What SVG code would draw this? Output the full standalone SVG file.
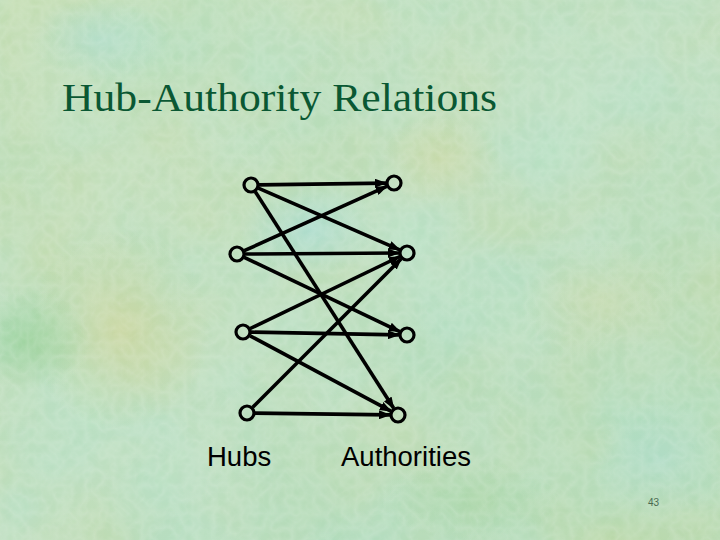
<svg xmlns="http://www.w3.org/2000/svg" width="720" height="540" viewBox="0 0 720 540">
<defs>
<style>
.title{font-family:"Liberation Serif","Times New Roman",serif;font-size:40px;fill:#0A5833}
.lbl{font-family:"Liberation Sans",Arial,sans-serif;font-size:27.5px;fill:#000}
.pg{font-family:"Liberation Sans",Arial,sans-serif;font-size:10px;fill:#4A6A50}
.node{fill:none;stroke:#000;stroke-width:3.2}
.edge{stroke:#000;stroke-width:3.6;fill:none;marker-end:url(#ah)}
</style>
<marker id="ah" viewBox="0 0 12 9" refX="11" refY="4.5" markerWidth="12" markerHeight="9" markerUnits="userSpaceOnUse" orient="auto">
<path d="M0,0 L12,4.5 L0,9 z" fill="#000"/>
</marker>
<linearGradient id="bg" x1="0" y1="0" x2="1" y2="1">
<stop offset="0" stop-color="#B2D9A6"/>
<stop offset="0.5" stop-color="#AEDAB2"/>
<stop offset="1" stop-color="#A6D6A6"/>
</linearGradient>
<radialGradient id="yel"><stop offset="0" stop-color="#CDD69E" stop-opacity="0.8"/><stop offset="1" stop-color="#CDD69E" stop-opacity="0"/></radialGradient>
<radialGradient id="blu"><stop offset="0" stop-color="#AADCD0" stop-opacity="0.8"/><stop offset="1" stop-color="#AADCD0" stop-opacity="0"/></radialGradient>
<radialGradient id="grn"><stop offset="0" stop-color="#98D096" stop-opacity="0.8"/><stop offset="1" stop-color="#98D096" stop-opacity="0"/></radialGradient>
<filter id="blot" x="0" y="0" width="100%" height="100%">
<feTurbulence type="fractalNoise" baseFrequency="0.008" numOctaves="3" seed="11"/>
<feColorMatrix type="matrix" values="0.7 0 0 0 0.5  0 0.25 0 0 0.72  -0.3 0.9 0 0 0.55  0 0 0 0 0.45"/>
</filter>
<filter id="tex" x="0" y="0" width="100%" height="100%">
<feTurbulence type="turbulence" baseFrequency="0.07" numOctaves="2" seed="3"/>
<feColorMatrix type="matrix" values="0 0 0 0 1  0 0 0 0 1  0 0 0 0 1  0 0 0 -1.8 1.0"/>
</filter>
</defs>
<g id="background">
<rect width="720" height="540" fill="url(#bg)"/>
<rect width="720" height="540" filter="url(#blot)" opacity="0.5"/>
<ellipse cx="120" cy="330" rx="90" ry="100" fill="url(#yel)"/>
<ellipse cx="440" cy="160" rx="60" ry="45" fill="url(#yel)" opacity="0.6"/>
<ellipse cx="600" cy="300" rx="80" ry="60" fill="url(#yel)" opacity="0.5"/>
<ellipse cx="100" cy="40" rx="70" ry="40" fill="url(#blu)" opacity="0.7"/>
<ellipse cx="310" cy="230" rx="70" ry="50" fill="url(#blu)"/>
<ellipse cx="660" cy="460" rx="70" ry="60" fill="url(#blu)" opacity="0.6"/>
<ellipse cx="30" cy="340" rx="60" ry="50" fill="url(#grn)"/>
<ellipse cx="470" cy="500" rx="90" ry="40" fill="url(#grn)" opacity="0.5"/>
<rect width="720" height="540" filter="url(#tex)" opacity="0.14"/>
</g>
<text class="title" x="62" y="111" textLength="435" lengthAdjust="spacingAndGlyphs">Hub-Authority Relations</text>
<g id="connectors">
<line class="edge" x1="259" y1="184.9" x2="386" y2="183.1"/>
<line class="edge" x1="258.3" y1="188.2" x2="399.7" y2="249.8"/>
<line class="edge" x1="255.3" y1="191.7" x2="393.7" y2="408.3"/>
<line class="edge" x1="244.3" y1="250.7" x2="386.7" y2="186.3"/>
<line class="edge" x1="245" y1="254" x2="399" y2="253"/>
<line class="edge" x1="244.2" y1="257.4" x2="399.8" y2="331.6"/>
<line class="edge" x1="250.2" y1="328.5" x2="399.8" y2="256.5"/>
<line class="edge" x1="251" y1="332.1" x2="399" y2="334.9"/>
<line class="edge" x1="250.1" y1="335.8" x2="390.9" y2="411.2"/>
<line class="edge" x1="252.7" y1="407.3" x2="401.3" y2="258.7"/>
<line class="edge" x1="255" y1="413.1" x2="390" y2="414.9"/>
</g>
<g id="hub1"><circle class="node" cx="251" cy="185" r="7"/></g>
<g id="hub2"><circle class="node" cx="237" cy="254" r="7"/></g>
<g id="hub3"><circle class="node" cx="243" cy="332" r="7"/></g>
<g id="hub4"><circle class="node" cx="247" cy="413" r="7"/></g>
<g id="auth1"><circle class="node" cx="394" cy="183" r="7"/></g>
<g id="auth2"><circle class="node" cx="407" cy="253" r="7"/></g>
<g id="auth3"><circle class="node" cx="407" cy="335" r="7"/></g>
<g id="auth4"><circle class="node" cx="398" cy="415" r="7"/></g>
<text class="lbl" x="207" y="466">Hubs</text>
<text class="lbl" x="341" y="466">Authorities</text>
<text class="pg" x="648" y="506">43</text>
</svg>
